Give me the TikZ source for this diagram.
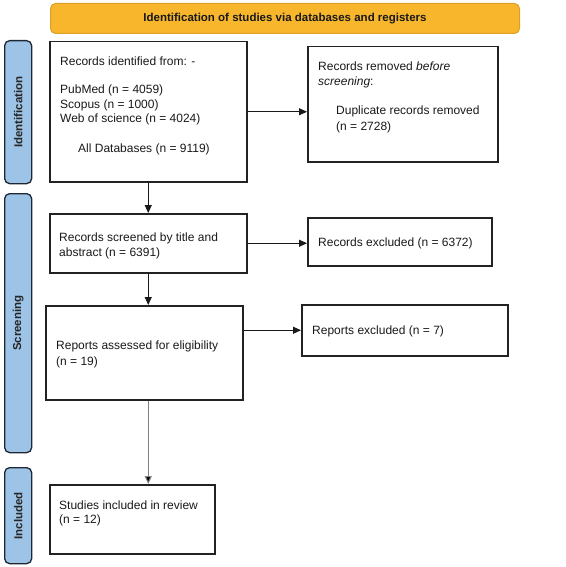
\documentclass[tikz,border=0pt]{standalone}
\usepackage{fontspec}
\setmainfont{Liberation Sans}
\usetikzlibrary{arrows.meta}
\definecolor{hdrfill}{HTML}{F8B62C}
\definecolor{hdrdraw}{HTML}{DDA025}
\definecolor{sidefill}{HTML}{9DC3E6}
\definecolor{sidedraw}{HTML}{1E2835}
\definecolor{boxdraw}{HTML}{222222}
\begin{document}
\begin{tikzpicture}[x=1pt,y=-1pt,
  box/.style={draw=boxdraw,line width=1.5pt,inner sep=0pt,anchor=north west},
  side/.style={draw=sidedraw,fill=sidefill,line width=1.3pt,rounded corners=5pt,inner sep=0pt,anchor=north west,minimum width=27pt},
  sidetext/.style={rotate=90,font=\fontsize{11.5}{13}\selectfont\bfseries,text=black!85},
  hdr/.style={draw=hdrdraw,fill=hdrfill,line width=1pt,rounded corners=5pt,inner sep=0pt,anchor=north west},
  txt/.style={anchor=base west,inner sep=0pt,font=\fontsize{12}{14.5}\selectfont,text=black!90},
  arr/.style={draw=black!90,line width=0.9pt,-{Triangle[length=8pt,width=7pt]}},
  garr/.style={draw=black!50,line width=1pt,-{Triangle[length=8pt,width=7pt,fill=black]}}]
\useasboundingbox (0,0) rectangle (565,567);
% header
\node[hdr,minimum width=469pt,minimum height=30pt] (hd) at (50,3) {};
\node[font=\fontsize{11.5}{13}\selectfont\bfseries,text=black!90] (hdt) at (hd.center) {Identification of studies via databases and registers};
% side labels
\node[side,minimum height=143pt] (s1) at (4,40) {};
\node[sidetext] (s1t) at (s1.center) {Identification};
\node[side,minimum height=259pt] (s2) at (4,193) {};
\node[sidetext] (s2t) at (s2.center) {Screening};
\node[side,minimum height=96pt] (s3) at (4,467) {};
\node[sidetext] (s3t) at (s3.center) {Included};
% boxes
\node[box,minimum width=197pt,minimum height=140pt] (b1) at (49,41) {};
\node[box,minimum width=190pt,minimum height=115pt] (b2) at (307,46) {};
\node[box,minimum width=197pt,minimum height=59pt] (b3) at (49,213) {};
\node[box,minimum width=184pt,minimum height=48pt] (b4) at (307,217) {};
\node[box,minimum width=197pt,minimum height=94pt] (b5) at (45,305) {};
\node[box,minimum width=206pt,minimum height=51pt] (b6) at (301,304) {};
\node[box,minimum width=165pt,minimum height=69pt] (b7) at (49,484) {};
% texts
\node[txt] (t1a) at (60,66) {Records identified from: -};
\node[txt] (t1b) at (60,94) {PubMed (n = 4059)};
\node[txt] (t1c) at (60,109) {Scopus (n = 1000)};
\node[txt] (t1d) at (60,123) {Web of science (n = 4024)};
\node[txt] (t1e) at (78,152) {All Databases (n = 9119)};
\node[txt] (t2a) at (318,71) {Records removed \textit{before}};
\node[txt] (t2b) at (318,86) {\textit{screening}:};
\node[txt] (t2c) at (336,115) {Duplicate records removed};
\node[txt] (t2d) at (336,131) {(n = 2728)};
\node[txt] (t3a) at (59,241) {Records screened by title and};
\node[txt] (t3b) at (59,256) {abstract (n = 6391)};
\node[txt] (t4a) at (318,246) {Records excluded (n = 6372)};
\node[txt] (t5a) at (56,349) {Reports assessed for eligibility};
\node[txt] (t5b) at (56,365) {(n = 19)};
\node[txt] (t6a) at (312,334) {Reports excluded (n = 7)};
\node[txt] (t7a) at (59,509) {Studies included in review};
\node[txt] (t7b) at (59,523) {(n = 12)};
% connectors
\draw[arr] (b1.east) -- (b1.east -| b2.west);
\draw[arr] (b3.east) -- (b3.east -| b4.west);
\draw[arr] (b6.west -| b5.east) -- (b6.west);
\draw[arr] (b1.south) -- (b3.north);
\draw[arr] (b3.south) -- (b3.south |- b5.north);
\draw[garr] (b3.south |- b5.south) -- (b3.south |- b7.north);
\end{tikzpicture}
\end{document}
